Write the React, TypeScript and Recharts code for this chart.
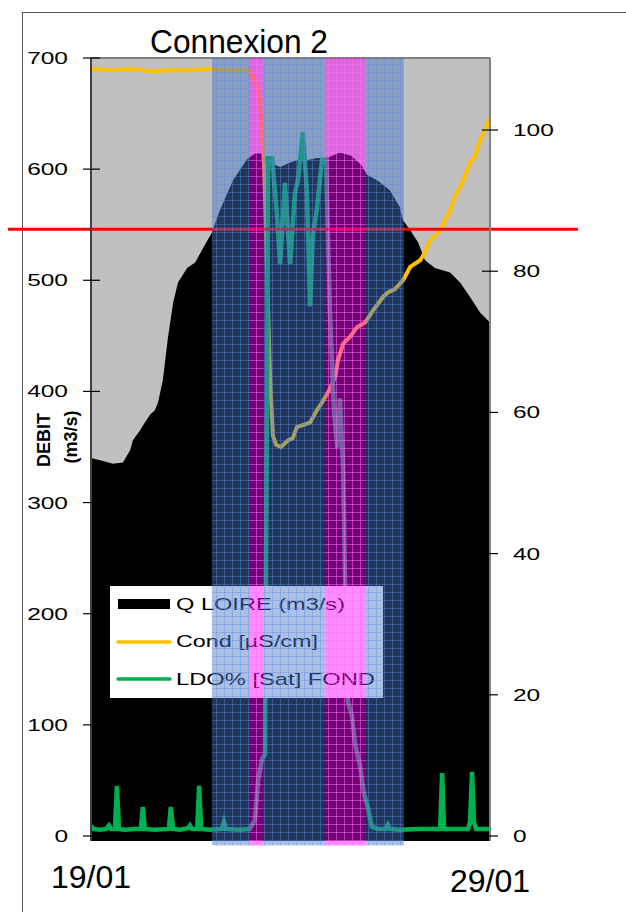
import React from 'react';
import { ComposedChart, Area, Line, XAxis, YAxis, ReferenceArea, ReferenceLine } from 'recharts';

// ---- data (x in days since 19/01) ----
const qDays = [0, 0.35, 0.55, 0.8, 0.98, 1.05, 1.23, 1.35, 1.48, 1.6, 1.68, 1.8, 1.93, 2.06, 2.18, 2.41, 2.61, 2.81, 3.03, 3.23, 3.56, 3.91, 4.11, 4.29, 4.49, 4.74, 4.99, 5.16, 5.41, 5.66, 5.91, 6.24, 6.52, 6.77, 6.92, 7.17, 7.49, 7.74, 7.82, 8.0, 8.2, 8.37, 8.62, 9.0, 9.25, 9.5, 9.75, 10];
const qValues = [340, 337, 335, 336, 347, 356, 365, 372, 379, 383, 390, 410, 449, 480, 498, 511, 516, 529, 543, 563, 590, 609, 614, 614, 606, 602, 606, 608, 608, 610, 610, 615, 612, 604, 595, 590, 581, 566, 554, 545, 534, 518, 511, 507, 498, 485, 471, 462];

const condDays = [0, 0.5, 1.0, 1.5, 2.0, 2.5, 3.0, 3.5, 3.93, 4.06, 4.16, 4.24, 4.29, 4.34, 4.39, 4.44, 4.49, 4.56, 4.64, 4.76, 4.94, 5.06, 5.16, 5.49, 5.66, 5.79, 5.94, 6.12, 6.19, 6.32, 6.49, 6.67, 6.87, 7.07, 7.32, 7.44, 7.62, 7.82, 8.0, 8.25, 8.37, 8.5, 8.75, 8.87, 9.0, 9.12, 9.25, 9.37, 9.5, 9.62, 9.75, 9.87, 10];
const condValues = [690, 689, 690, 688, 689, 689, 690, 689, 689, 684, 675, 658, 635, 600, 540, 470, 410, 360, 352, 350, 356, 358, 368, 372, 383, 390, 399, 413, 428, 443, 449, 458, 462, 473, 485, 489, 492, 500, 512, 518, 525, 536, 545, 554, 563, 575, 584, 593, 606, 611, 626, 635, 646];

const ldoDays = [0, 0.05, 0.23, 0.38, 0.45, 0.5, 0.6, 0.65, 0.7, 0.85, 1.1, 1.25, 1.3, 1.35, 1.6, 1.95, 2.0, 2.06, 2.23, 2.43, 2.48, 2.53, 2.66, 2.71, 2.76, 2.98, 3.28, 3.33, 3.38, 3.73, 3.98, 4.11, 4.19, 4.29, 4.36, 4.41, 4.44, 4.54, 4.66, 4.74, 4.86, 4.99, 5.11, 5.19, 5.31, 5.41, 5.49, 5.56, 5.66, 5.79, 5.89, 5.99, 6.09, 6.17, 6.24, 6.32, 6.37, 6.44, 6.54, 6.62, 6.74, 6.84, 6.94, 7.04, 7.19, 7.39, 7.44, 7.49, 7.74, 8.25, 8.75, 8.8, 8.85, 9.12, 9.45, 9.5, 9.55, 9.6, 9.65, 10];
const ldoValues = [1.5, 1.0, 0.9, 1.0, 1.5, 1.0, 1.0, 7.1, 1.0, 0.9, 1.0, 1.0, 4.1, 1.0, 0.9, 1.0, 4.1, 1.0, 0.9, 1.1, 1.5, 1.0, 1.0, 7.1, 1.0, 0.9, 1.0, 2.0, 1.0, 0.9, 1.0, 2.3, 8.0, 11, 11.5, 60, 96, 96, 88, 81, 92.5, 81, 91, 93, 99.7, 91.5, 75, 85, 88.7, 95.8, 95.8, 74, 60, 55, 62, 52, 35, 19, 17, 13, 10, 6, 4, 1.3, 1.0, 1.0, 1.6, 1.0, 0.9, 1.0, 1.0, 8.9, 1.0, 1.0, 1.0, 2.0, 9.1, 2.0, 1.0, 1.0];

const xTickValues = [0, 10];
const xTickLabels = ['19/01', '29/01'];
const leftTicks = [0, 100, 200, 300, 400, 500, 600, 700];
const rightTicks = [0, 20, 40, 60, 80, 100];
const seriesNames = ['Q LOIRE (m3/s)', 'Cond [µS/cm]', 'LDO% [Sat] FOND'];
const titleText = 'Connexion 2';
const yTitleLines = ['DEBIT', '(m3/s)'];
const limitValue = 546;
const connexionSpan = [3.03, 7.84];
const pinkSpans = [[3.96, 4.31], [5.86, 6.89]];

const qData = qDays.map((t, i) => ({ t, q: qValues[i] }));
const condData = condDays.map((t, i) => ({ t, cond: condValues[i] }));
const ldoData = ldoDays.map((t, i) => ({ t, ldo: ldoValues[i] }));
const blueSpans = [
  [connexionSpan[0], pinkSpans[0][0]],
  [pinkSpans[0][1], pinkSpans[1][0]],
  [pinkSpans[1][1], connexionSpan[1]],
];

const FONT = 'Liberation Sans, Arial, sans-serif';
const COLORS = { q: '#000000', cond: '#ffc000', ldo: '#00b050' };

const LeftTick = (props: any) => {
  const { x, y, payload } = props;
  const s = String(payload.value);
  return (
    <g>
      <line x1={x - 8} x2={x + 9} y1={y} y2={y} stroke="#000" strokeWidth={1.2} />
      <text x={x - 23} y={y + 6} textAnchor="end" fontFamily={FONT} fontSize={17} fill="#000"
        textLength={s.length * 13.6} lengthAdjust="spacingAndGlyphs">{s}</text>
    </g>
  );
};

const RightTick = (props: any) => {
  const { x, y, payload } = props;
  const s = String(payload.value);
  return (
    <g>
      <line x1={x - 8} x2={x + 8} y1={y} y2={y} stroke="#000" strokeWidth={1.2} />
      <text x={x + 23} y={y + 6} textAnchor="start" fontFamily={FONT} fontSize={17} fill="#000"
        textLength={s.length * 13.6} lengthAdjust="spacingAndGlyphs">{s}</text>
    </g>
  );
};

const XTick = (props: any) => {
  const { x, y, payload } = props;
  const idx = xTickValues.indexOf(payload.value);
  return (
    <text x={x} y={y + (idx === 0 ? 47 : 51)} textAnchor="middle" fontFamily={FONT} fontSize={32} fill="#000">
      {xTickLabels[idx]}
    </text>
  );
};

const GridShape = (props: any) => {
  const { x, y, width, height, pid, base, baseOpacity, lineColor, lineOpacity } = props;
  return (
    <g>
      <defs>
        <pattern id={pid} x={0} y={0} width={8} height={8} patternUnits="userSpaceOnUse">
          <rect x={0} y={0} width={8} height={8} fill={base} fillOpacity={baseOpacity} />
          <path d="M0 0.5H8M0.5 0V8" stroke={lineColor} strokeOpacity={lineOpacity} strokeWidth={1} />
        </pattern>
      </defs>
      <rect x={x} y={y} width={width} height={height} fill={`url(#${pid})`} />
    </g>
  );
};

const LegendShape = () => (
  <g>
    <rect x={110} y={586} width={273} height={112} fill="#ffffff" />
    <rect x={118} y={599} width={52} height={10} fill={COLORS.q} />
    <line x1={118} x2={170} y1={642} y2={642} stroke={COLORS.cond} strokeWidth={3.5} strokeLinecap="round" />
    <line x1={118} x2={170} y1={679} y2={679} stroke={COLORS.ldo} strokeWidth={3.5} strokeLinecap="round" />
    <text x={176} y={610} fontFamily={FONT} fontSize={17} fill="#000" textLength={169} lengthAdjust="spacingAndGlyphs">{seriesNames[0]}</text>
    <text x={176} y={647} fontFamily={FONT} fontSize={17} fill="#000" textLength={142} lengthAdjust="spacingAndGlyphs">{seriesNames[1]}</text>
    <text x={176} y={685} fontFamily={FONT} fontSize={17} fill="#000" textLength={199} lengthAdjust="spacingAndGlyphs">{seriesNames[2]}</text>
  </g>
);

const RedLineShape = (props: any) => (
  <line x1={8} x2={578} y1={props.y1} y2={props.y1} stroke="#ff0000" strokeWidth={3} />
);

export default function App() {
  return (
    <div style={{ position: 'absolute', left: 0, top: 0, width: 626, height: 912, overflow: 'hidden', background: '#fff' }}>
      <div style={{ position: 'absolute', left: 22, top: 12, width: 800, height: 1000, borderLeft: '1.5px solid #555', borderTop: '1.5px solid #555' }} />
      <div style={{ position: 'absolute', left: 0, top: 0 }}>
        <ComposedChart width={626} height={912} margin={{ top: 58, right: 0, bottom: 0, left: 0 }}>
          <XAxis xAxisId="x" dataKey="t" type="number" domain={[0, 10]} ticks={xTickValues} allowDataOverflow
            axisLine={false} tickLine={false} tickSize={0} tickMargin={0} height={71} tick={(p: any) => <XTick {...p} />} interval={0} />
          <YAxis yAxisId="left" orientation="left" type="number" domain={[-4.5, 700]} ticks={leftTicks} allowDataOverflow
            width={91} axisLine={{ stroke: '#404040', strokeWidth: 2 }} tickLine={false} tickSize={0} tickMargin={0}
            tick={(p: any) => <LeftTick {...p} />} interval={0} />
          <YAxis yAxisId="right" orientation="right" type="number" domain={[-0.708, 110.2]} ticks={rightTicks} allowDataOverflow
            width={136} axisLine={{ stroke: '#808080', strokeWidth: 2 }} tickLine={false} tickSize={0} tickMargin={0}
            tick={(p: any) => <RightTick {...p} />} interval={0} />

          <ReferenceArea xAxisId="x" yAxisId="left" x1={0} x2={10} y1={-4.5} y2={700} fill="#c0c0c0" fillOpacity={1}
            stroke="none" ifOverflow="visible" zIndex={10} />
          <Area xAxisId="x" yAxisId="left" data={qData} dataKey="q" name={seriesNames[0]} type="linear" stroke="none"
            fill={COLORS.q} fillOpacity={1} baseValue="dataMin" isAnimationActive={false} dot={false} activeDot={false} zIndex={20} />
          <Line xAxisId="x" yAxisId="left" data={condData} dataKey="cond" name={seriesNames[1]} type="linear"
            stroke={COLORS.cond} strokeWidth={4} dot={false} activeDot={false} isAnimationActive={false} zIndex={30} />
          <Line xAxisId="x" yAxisId="right" data={ldoData} dataKey="ldo" name={seriesNames[2]} type="linear"
            stroke={COLORS.ldo} strokeWidth={4.5} dot={false} activeDot={false} isAnimationActive={false} zIndex={31} />
          <ReferenceLine xAxisId="x" yAxisId="left" y={700} stroke="#808080" strokeWidth={2} zIndex={35} />
          <ReferenceLine xAxisId="x" yAxisId="left" y={limitValue} shape={(p: any) => <RedLineShape {...p} />} zIndex={40} />
          <ReferenceArea xAxisId="x" yAxisId="left" x1={0} x2={10} y1={0} y2={700} ifOverflow="visible"
            shape={() => <LegendShape />} zIndex={50} />
          {blueSpans.map((s, i) => (
            <ReferenceArea key={'b' + i} xAxisId="x" yAxisId="left" x1={s[0]} x2={s[1]} y1={-8.5} y2={700}
              ifOverflow="visible" zIndex={60}
              shape={(p: any) => <GridShape {...p} pid="blueGrid" base="#4776c4" baseOpacity={0.46} lineColor="#5a8ce6" lineOpacity={0.4} />} />
          ))}
          {pinkSpans.map((s, i) => (
            <ReferenceArea key={'p' + i} xAxisId="x" yAxisId="left" x1={s[0]} x2={s[1]} y1={-8.5} y2={700}
              ifOverflow="visible" zIndex={70}
              shape={(p: any) => <GridShape {...p} pid="pinkGrid" base="#ff00ff" baseOpacity={0.45} lineColor="#ff70ff" lineOpacity={0.5} />} />
          ))}
        </ComposedChart>
      </div>
      <svg style={{ position: 'absolute', left: 0, top: 0 }} width={626} height={912} pointerEvents="none">
        <text x={239} y={53} textAnchor="middle" fontFamily={FONT} fontSize={33} fill="#000" textLength={178} lengthAdjust="spacingAndGlyphs">{titleText}</text>
        <text transform="translate(50,440) rotate(-90)" textAnchor="middle" fontFamily={FONT} fontSize={18} fontWeight="bold" fill="#000">{yTitleLines[0]}</text>
        <text transform="translate(77,437) rotate(-90)" textAnchor="middle" fontFamily={FONT} fontSize={18} fontWeight="bold" fill="#000">{yTitleLines[1]}</text>
      </svg>
    </div>
  );
}
